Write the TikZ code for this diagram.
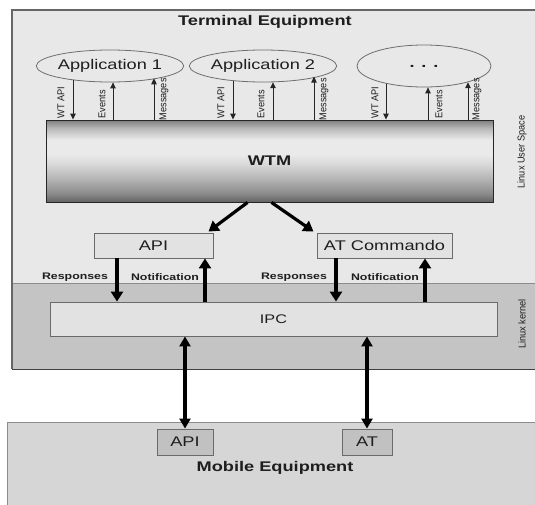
\documentclass[tikz,border=0pt]{standalone}
\usepackage{fontspec}
\setmainfont{Liberation Sans}[FakeStretch=1.3]
\newfontfamily\lblfont{Liberation Sans}[FakeStretch=0.92]
\usetikzlibrary{arrows.meta,shapes.geometric}
\definecolor{userbg}{HTML}{E8E8E8}
\definecolor{kernbg}{HTML}{C4C4C4}
\definecolor{mebg}{HTML}{D6D6D6}
\definecolor{boxfill}{HTML}{E2E2E2}
\definecolor{boxline}{HTML}{6A6A6A}
\definecolor{txt}{HTML}{1E1E1E}
\definecolor{ellline}{HTML}{6E6E6E}
\definecolor{wtmA}{HTML}{626262}
\definecolor{wtmA2}{HTML}{8A8A8A}
\definecolor{wtmB}{HTML}{B8B8B8}
\definecolor{wtmB2}{HTML}{D8D8D8}
\definecolor{wtmC}{HTML}{EAEAEA}
\definecolor{wtmD}{HTML}{B8B8B8}
\definecolor{wtmE}{HTML}{7E7E7E}
\pgfdeclareverticalshading{wtmshade}{100bp}{color(0bp)=(wtmA); color(25bp)=(wtmA); color(30bp)=(wtmA2); color(40bp)=(wtmB); color(48bp)=(wtmB2); color(54bp)=(wtmC); color(63bp)=(wtmC); color(70bp)=(wtmD); color(75bp)=(wtmE); color(100bp)=(wtmE)}
\begin{document}
\begin{tikzpicture}[x=1pt,y=-1pt,
  every node/.style={text=txt},
  box/.style={draw=boxline, fill=boxfill, inner sep=0pt, line width=0.9pt, font=\fontsize{14}{14}\selectfont},
  app/.style={ellipse, draw=ellline, line width=0.8pt, inner sep=0pt, font=\fontsize{14}{14}\selectfont},
  apparr/.style={draw=black!85, line width=0.9pt, -{Triangle[length=6pt,width=5.5pt]}},
  bigarr/.style={line width=3.2pt, -{Triangle[length=10pt,width=12pt]}},
  dblarr/.style={line width=3.2pt, {Triangle[length=10pt,width=11pt]}-{Triangle[length=10pt,width=11pt]}},
  rlab/.style={rotate=90, anchor=west, font=\lblfont\fontsize{10}{10}\selectfont, inner sep=0.5pt},
  blab/.style={font=\bfseries\fontsize{9.5}{9.5}\selectfont, inner sep=0pt},
  title/.style={font=\bfseries\fontsize{14}{14}\selectfont, inner sep=0pt},
  side/.style={rotate=90, font=\lblfont\fontsize{10}{10}\selectfont, inner sep=0pt}
]
\fill[white] (0,0) rectangle (535,504);
\useasboundingbox (0,0) rectangle (535,504);
% regions
\fill[userbg] (12,10) rectangle (540,283);
\fill[kernbg] (12,283) rectangle (540,369);
\draw[black!45, line width=0.8pt] (12,283) -- (540,283);
\draw[black!75, line width=1pt] (12,369) -- (540,369);
\draw[black!60, line width=1.2pt] (540,10) -- (12,10) -- (12,369);
\fill[mebg] (7,422) rectangle (540,510);
\draw[black!45, line width=0.9pt] (540,422) -- (7,422) -- (7,510);

\node[title] (te) at (265,22) {Terminal Equipment};

% applications
\node[app, minimum width=132pt, minimum height=32pt] (app1) at (110,66) {Application 1};
\node[app, minimum width=132pt, minimum height=32pt] (app2) at (263,66) {Application 2};
\node[app, minimum width=134pt, minimum height=42pt, font=\bfseries\fontsize{14}{14}\selectfont] (app3) at (424,66) {. . .};

% WTM
\node[draw=black!85, line width=0.9pt, shade, shading=wtmshade, minimum width=447pt, minimum height=82pt, inner sep=0pt, font=\bfseries\fontsize{14}{14}\selectfont] (wtm) at (269.5,161) {WTM};

% app arrows
\draw[apparr] ([xshift=-37pt,yshift=2.8pt]app1.south) -- ([xshift=-37pt]app1.south |- wtm.north);
\draw[apparr] ([xshift=3pt]app1.south |- wtm.north) -- ([xshift=3pt]app1.south);
\draw[apparr] ([xshift=44pt]app1.south |- wtm.north) -- ([xshift=44pt,yshift=4.1pt]app1.south);
\node[rlab] (l1a) at (61,119) {WT API};
\node[rlab] (l1b) at (102,119) {Events};
\node[rlab] (l1c) at (164,121) {Messages};

\draw[apparr] ([xshift=-30pt,yshift=1.7pt]app2.south) -- ([xshift=-30pt]app2.south |- wtm.north);
\draw[apparr] ([xshift=10pt]app2.south |- wtm.north) -- ([xshift=10pt,yshift=0.2pt]app2.south);
\draw[apparr] ([xshift=51pt]app2.south |- wtm.north) -- ([xshift=51pt,yshift=5.8pt]app2.south);
\node[rlab] (l2a) at (221,119) {WT API};
\node[rlab] (l2b) at (261,119) {Events};
\node[rlab] (l2c) at (324,121) {Messages};

\draw[apparr] ([xshift=-38pt,yshift=3.7pt]app3.south) -- ([xshift=-38pt]app3.south |- wtm.north);
\draw[apparr] ([xshift=4pt]app3.south |- wtm.north) -- ([xshift=4pt]app3.south);
\draw[apparr] ([xshift=44pt]app3.south |- wtm.north) -- ([xshift=44pt,yshift=5.2pt]app3.south);
\node[rlab] (l3a) at (375,119) {WT API};
\node[rlab] (l3b) at (439,119) {Events};
\node[rlab] (l3c) at (477,121) {Messages};

\node[side] (lus) at (522,152) {Linux User Space};
\node[side] (lk) at (522,324) {Linux kernel};

% API / AT Commando
\node[box, minimum width=119pt, minimum height=25pt] (api) at (153.5,245.5) {API};
\node[box, minimum width=135pt, minimum height=25pt] (atc) at (384.5,245.5) {AT Commando};

\draw[bigarr] ([xshift=-22pt]wtm.south) -- ([xshift=55pt,yshift=1pt]api.north);
\draw[bigarr] ([xshift=2pt]wtm.south) -- ([xshift=-71pt,yshift=1pt]atc.north);

% IPC
\node[box, minimum width=447pt, minimum height=34pt, font=\fontsize{12.5}{12.5}\selectfont] (ipc) at (273.5,319) {IPC};

\draw[bigarr] ([xshift=-36.5pt]api.south) -- ([xshift=-36.5pt]api.south |- ipc.north);
\draw[bigarr] ([xshift=51.5pt]api.south |- ipc.north) -- ([xshift=51.5pt]api.south);
\draw[bigarr] ([xshift=-48.5pt]atc.south) -- ([xshift=-48.5pt]atc.south |- ipc.north);
\draw[bigarr] ([xshift=40.5pt]atc.south |- ipc.north) -- ([xshift=40.5pt]atc.south);

\node[blab] (r1) at (75,277) {Responses};
\node[blab] (n1) at (165,277) {Notification};
\node[blab] (r2) at (294,277) {Responses};
\node[blab] (n2) at (385,277) {Notification};

% Mobile equipment
\node[box, fill=mebg!90!black, minimum width=56pt, minimum height=26pt] (meapi) at (185,442) {API};
\node[box, fill=mebg!90!black, minimum width=50pt, minimum height=26pt] (meat) at (367,442) {AT};
\node[title] (me) at (275,468) {Mobile Equipment};

\draw[dblarr] (ipc.south -| meapi) -- (meapi.north);
\draw[dblarr] (ipc.south -| meat) -- (meat.north);
\end{tikzpicture}
\end{document}
